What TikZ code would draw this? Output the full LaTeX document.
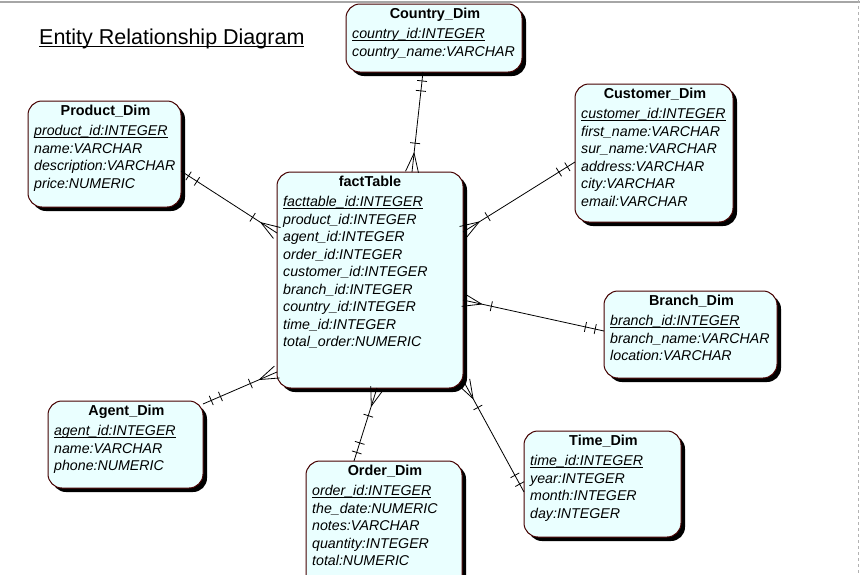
\documentclass[tikz,border=0pt]{standalone}
\usepackage{fontspec}
\setmainfont{Liberation Sans}
\usetikzlibrary{shadows,decorations.markings,calc}
\definecolor{boxfill}{RGB}{234,255,255}
\definecolor{boxline}{RGB}{70,0,0}
\newcommand\ulx[1]{\setbox0\hbox{#1}\rlap{\rule[-2.2pt]{\wd0}{0.9pt}}\box0}
\tikzset{
  entity/.style={draw=boxline, line width=1pt, fill=boxfill, rounded corners=14pt,
    inner sep=0pt, outer sep=0pt, anchor=north west,
    drop shadow={shadow xshift=4pt, shadow yshift=-4pt, fill=black, opacity=1}},
  hdr/.style={anchor=base, inner sep=0pt, font=\bfseries\fontsize{14.4}{17.5}\selectfont},
  attr/.style={anchor=base west, inner sep=0pt, font=\itshape\fontsize{14.2}{17.5}\selectfont},
  bar/.style={line width=0.8pt},
  rel/.style={line width=0.8pt, postaction={decorate, decoration={markings,
    mark=at position 9pt with {\draw[bar] (0,-5pt)--(0,5pt);},
    mark=at position 19pt with {\draw[bar] (0,-5pt)--(0,5pt);},
    mark=at position -29pt with {\draw[bar] (0,-5pt)--(0,5pt);},
    mark=at position -19pt with {\draw[bar] (0,0)--(19pt,6.5pt) (0,0)--(19pt,-6.5pt);}}}}
}
\begin{document}
\begin{tikzpicture}[x=1pt,y=-1pt]
\clip (0,0) rectangle (860,574);
\fill[white] (0,0) rectangle (860,574);
\draw[gray!70, line width=2pt] (0,1.5) -- (860,1.5);
\draw[gray!60, dashed, line width=1pt] (858.5,0) -- (858.5,574);

\node[anchor=base west, inner sep=0pt, font=\fontsize{21.5}{26}\selectfont] (title) at (39,44)
  {\setbox0\hbox{Entity Relationship Diagram}\rlap{\rule[-3pt]{\wd0}{1.2pt}}\box0};

% entities
\node[entity, minimum width=176pt, minimum height=68pt] (country) at (346,4) {};
\node[hdr] (countryH) at ($(country.north)+(1,14)$) {Country\_Dim};
\node[attr] (countryA) at ($(country.north west)+(6,34.5)$) {\begin{tabular}[t]{@{}l@{}}\ulx{country\_id:INTEGER}\\country\_name:VARCHAR\end{tabular}};

\node[entity, minimum width=158pt, minimum height=138pt] (customer) at (575,84) {};
\node[hdr] (customerH) at ($(customer.north)+(1,14)$) {Customer\_Dim};
\node[attr] (customerA) at ($(customer.north west)+(6,34.5)$) {\begin{tabular}[t]{@{}l@{}}\ulx{customer\_id:INTEGER}\\first\_name:VARCHAR\\sur\_name:VARCHAR\\address:VARCHAR\\city:VARCHAR\\email:VARCHAR\end{tabular}};

\node[entity, minimum width=153pt, minimum height=106pt] (product) at (28,101) {};
\node[hdr] (productH) at ($(product.north)+(1,14)$) {Product\_Dim};
\node[attr] (productA) at ($(product.north west)+(6,34.5)$) {\begin{tabular}[t]{@{}l@{}}\ulx{product\_id:INTEGER}\\name:VARCHAR\\description:VARCHAR\\price:NUMERIC\end{tabular}};

\node[entity, minimum width=186pt, minimum height=216pt] (fact) at (277,172) {};
\node[hdr] (factH) at ($(fact.north)+(0,14)$) {factTable};
\node[attr] (factA) at ($(fact.north west)+(6,34.5)$) {\begin{tabular}[t]{@{}l@{}}\ulx{facttable\_id:INTEGER}\\product\_id:INTEGER\\agent\_id:INTEGER\\order\_id:INTEGER\\customer\_id:INTEGER\\branch\_id:INTEGER\\country\_id:INTEGER\\time\_id:INTEGER\\total\_order:NUMERIC\end{tabular}};

\node[entity, minimum width=173pt, minimum height=87pt] (branch) at (604,291) {};
\node[hdr] (branchH) at ($(branch.north)+(1,14)$) {Branch\_Dim};
\node[attr] (branchA) at ($(branch.north west)+(6,34.5)$) {\begin{tabular}[t]{@{}l@{}}\ulx{branch\_id:INTEGER}\\branch\_name:VARCHAR\\location:VARCHAR\end{tabular}};

\node[entity, minimum width=155pt, minimum height=87pt] (agent) at (48,401) {};
\node[hdr] (agentH) at ($(agent.north)+(1,14)$) {Agent\_Dim};
\node[attr] (agentA) at ($(agent.north west)+(6,34.5)$) {\begin{tabular}[t]{@{}l@{}}\ulx{agent\_id:INTEGER}\\name:VARCHAR\\phone:NUMERIC\end{tabular}};

\node[entity, minimum width=156pt, minimum height=129pt] (order) at (306,461) {};
\node[hdr] (orderH) at ($(order.north)+(1,14)$) {Order\_Dim};
\node[attr] (orderA) at ($(order.north west)+(6,34.5)$) {\begin{tabular}[t]{@{}l@{}}\ulx{order\_id:INTEGER}\\the\_date:NUMERIC\\notes:VARCHAR\\quantity:INTEGER\\total:NUMERIC\end{tabular}};

\node[entity, minimum width=157pt, minimum height=106pt] (time) at (524,431) {};
\node[hdr] (timeH) at ($(time.north)+(1,14)$) {Time\_Dim};
\node[attr] (timeA) at ($(time.north west)+(6,34.5)$) {\begin{tabular}[t]{@{}l@{}}\ulx{time\_id:INTEGER}\\year:INTEGER\\month:INTEGER\\day:INTEGER\end{tabular}};

% relationships (one side at the dimension, many side at the fact table)
\draw[rel] ($(country.south west)+(77,0)$) -- ($(fact.north west)+(135,0)$);
\draw[rel] ($(product.north east)+(0,70)$) -- ($(fact.north west)+(0,61)$);
\draw[rel] ($(customer.north west)+(0,78)$) -- ($(fact.north east)+(0,60)$);
\draw[rel] ($(branch.north west)+(0,40)$) -- ($(fact.north east)+(0,128)$);
\draw[rel] ($(agent.north east)+(0,3)$) -- ($(fact.north west)+(0,200)$);
\draw[rel] ($(order.north west)+(48,0)$) -- ($(fact.south west)+(100,0)$);
\draw[rel] ($(time.north west)+(0,61)$) -- ($(fact.south east)+(1,-6)$);
\end{tikzpicture}
\end{document}
